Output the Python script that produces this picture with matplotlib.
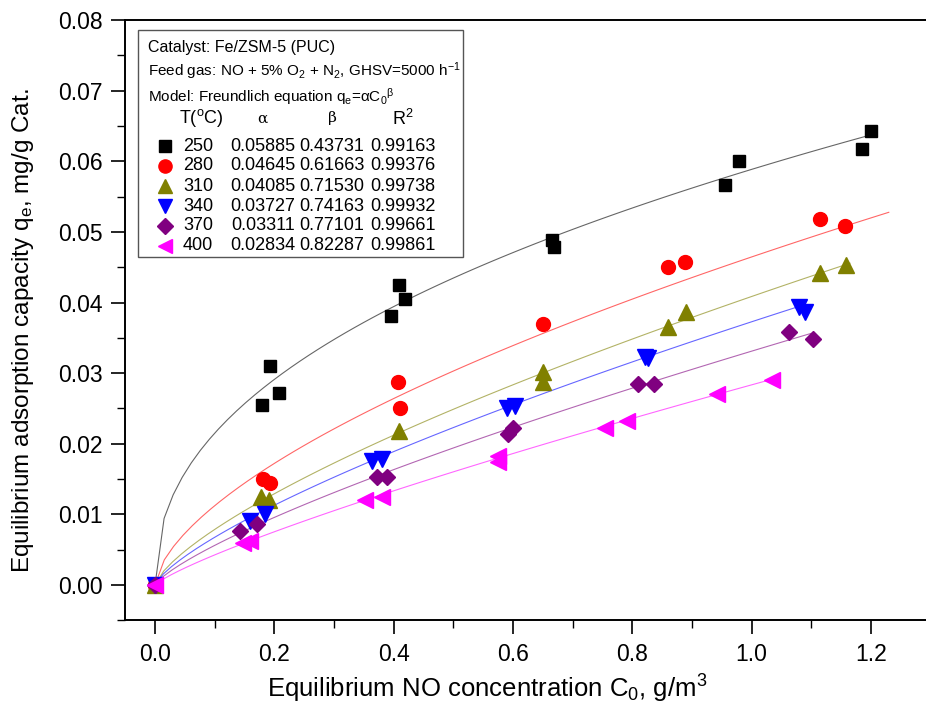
import numpy as np
import matplotlib
matplotlib.use("Agg")
import matplotlib.pyplot as plt
from matplotlib.patches import Rectangle
from matplotlib.ticker import MultipleLocator

plt.rcParams['font.family'] = ['Liberation Sans', 'DejaVu Sans']
plt.rcParams['mathtext.default'] = 'regular'

# adsorption isotherms of NO on Fe/ZSM-5 at six temperatures
temps = [250, 280, 310, 340, 370, 400]

c0_250 = [0, 0.179, 0.193, 0.208, 0.396, 0.409, 0.419, 0.666, 0.669, 0.956, 0.979, 1.185, 1.200]
qe_250 = [0, 0.0255, 0.0310, 0.0272, 0.0381, 0.0425, 0.0405, 0.0488, 0.0479, 0.0567, 0.0600, 0.0617, 0.0643]

c0_280 = [0, 0.181, 0.193, 0.407, 0.411, 0.650, 0.860, 0.889, 1.115, 1.157]
qe_280 = [0, 0.0150, 0.0144, 0.0287, 0.0250, 0.0370, 0.0450, 0.0458, 0.0518, 0.0508]

c0_310 = [0, 0.177, 0.191, 0.409, 0.650, 0.650, 0.860, 0.890, 1.115, 1.158]
qe_310 = [0, 0.0125, 0.0121, 0.0218, 0.0301, 0.0287, 0.0366, 0.0386, 0.0442, 0.0453]

c0_340 = [0, 0.159, 0.184, 0.364, 0.381, 0.590, 0.604, 0.821, 0.826, 1.080, 1.090]
qe_340 = [0, 0.0091, 0.0101, 0.0175, 0.0178, 0.0251, 0.0253, 0.0323, 0.0322, 0.0394, 0.0387]

c0_370 = [0, 0.142, 0.171, 0.372, 0.389, 0.592, 0.600, 0.810, 0.837, 1.063, 1.103]
qe_370 = [0, 0.0077, 0.0086, 0.0153, 0.0153, 0.0214, 0.0223, 0.0284, 0.0284, 0.0358, 0.0348]

c0_400 = [0, 0.148, 0.159, 0.352, 0.381, 0.575, 0.575, 0.754, 0.791, 0.942, 1.034]
qe_400 = [0, 0.0060, 0.0062, 0.0121, 0.0125, 0.0183, 0.0174, 0.0222, 0.0232, 0.0270, 0.0291]

# Freundlich fit q_e = alpha * C0^beta
alpha = [0.05885, 0.04645, 0.04085, 0.03727, 0.03311, 0.02834]
beta = [0.43731, 0.61663, 0.71530, 0.74163, 0.77101, 0.82287]
r2 = ['0.99163', '0.99376', '0.99738', '0.99932', '0.99661', '0.99861']
fit_end = [1.20, 1.23, 1.165, 1.09, 1.10, 1.04]

c0_all = [c0_250, c0_280, c0_310, c0_340, c0_370, c0_400]
qe_all = [qe_250, qe_280, qe_310, qe_340, qe_370, qe_400]

colors = ['#000000', '#ff0000', '#808000', '#0000ff', '#800080', '#ff00ff']
markers = ['s', 'o', '^', 'v', 'D', '<']
msizes = [9, 10, 11, 11, 8.5, 11]

fig = plt.figure(figsize=(9.26, 7.05), dpi=100)
ax = fig.add_axes([0.1352, 0.1201, 0.8697, 0.8515])

for i in range(len(temps)):
    xs = np.linspace(0, fit_end[i], 80)
    ax.plot(xs, alpha[i] * xs ** beta[i], color=colors[i], lw=0.8, alpha=0.6, zorder=2)
    ax.plot(c0_all[i], qe_all[i], ls='none', marker=markers[i], ms=msizes[i],
            color=colors[i], mec=colors[i], zorder=3)

ax.set_xlim(-0.05, 1.3)
ax.set_ylim(-0.005, 0.08)
ax.xaxis.set_minor_locator(MultipleLocator(0.1))
ax.yaxis.set_minor_locator(MultipleLocator(0.005))
ax.set_xticks(np.arange(0, 1.21, 0.2))
ax.set_xticklabels(['0.0', '0.2', '0.4', '0.6', '0.8', '1.0', '1.2'])
ax.set_yticks(np.arange(0, 0.081, 0.01))
ax.set_yticklabels(['%.2f' % v for v in np.arange(0, 0.081, 0.01)])

ax.tick_params(axis='both', which='major', direction='out', length=10, width=1.2,
               labelsize=16.5, pad=6)
ax.tick_params(axis='both', which='minor', direction='out', length=6, width=1.0)
ax.tick_params(top=False, right=False)
for s in ax.spines.values():
    s.set_linewidth(1.4)
ax.spines['right'].set_visible(False)

ax.set_xlabel('Equilibrium NO concentration C$_0$, g/m$^3$', fontsize=18.5)
ax.set_ylabel('Equilibrium adsorption capacity q$_e$, mg/g Cat.', fontsize=17.5)
ax.xaxis.set_label_coords(0.45, -0.088)
ax.yaxis.set_label_coords(-0.111, 0.482)

# annotation box with fit parameters
ax.add_patch(Rectangle((0.0159, 0.6052), 0.404, 0.3781, transform=ax.transAxes,
                       fill=False, ec='#555555', lw=1.0, zorder=4))
tx = 0.0283
ax.text(tx, 0.955, 'Catalyst: Fe/ZSM-5 (PUC)', transform=ax.transAxes,
        fontsize=11.5, va='center', ha='left')
ax.text(tx, 0.914, 'Feed gas: NO + 5% O$_2$ + N$_2$, GHSV=5000 h$^{-1}$',
        transform=ax.transAxes, fontsize=11, va='center', ha='left')
ax.text(tx, 0.873, r'Model: Freundlich equation q$_e$=$\alpha$C$_0$$^{\beta}$',
        transform=ax.transAxes, fontsize=11, va='center', ha='left')

hy = 0.836
col_x = [0.171, 0.257, 0.345]
ax.text(0.094, hy, 'T($^o$C)', transform=ax.transAxes, fontsize=13, ha='center', va='center')
ax.text(col_x[0], hy, r'$\alpha$', transform=ax.transAxes, fontsize=11, ha='center', va='center',
        family='DejaVu Serif')
ax.text(col_x[1], hy, r'$\beta$', transform=ax.transAxes, fontsize=11, ha='center', va='center',
        family='DejaVu Serif')
ax.text(col_x[2], hy, 'R$^2$', transform=ax.transAxes, fontsize=13, ha='center', va='center')

row_y = [0.790, 0.757, 0.723, 0.690, 0.657, 0.624]
for i in range(len(temps)):
    y = row_y[i]
    ax.plot([0.0494], [y], transform=ax.transAxes, marker=markers[i], ms=msizes[i] * 0.95,
            color=colors[i], ls='none', clip_on=False, zorder=5)
    ax.text(0.109, y, str(temps[i]), transform=ax.transAxes, fontsize=13,
            ha='right', va='center')
    ax.text(col_x[0], y, '%.5f' % alpha[i], transform=ax.transAxes, fontsize=13,
            ha='center', va='center')
    ax.text(col_x[1], y, '%.5f' % beta[i], transform=ax.transAxes, fontsize=13,
            ha='center', va='center')
    ax.text(col_x[2], y, r2[i], transform=ax.transAxes, fontsize=13,
            ha='center', va='center')

fig.savefig('out.png', dpi=100)
